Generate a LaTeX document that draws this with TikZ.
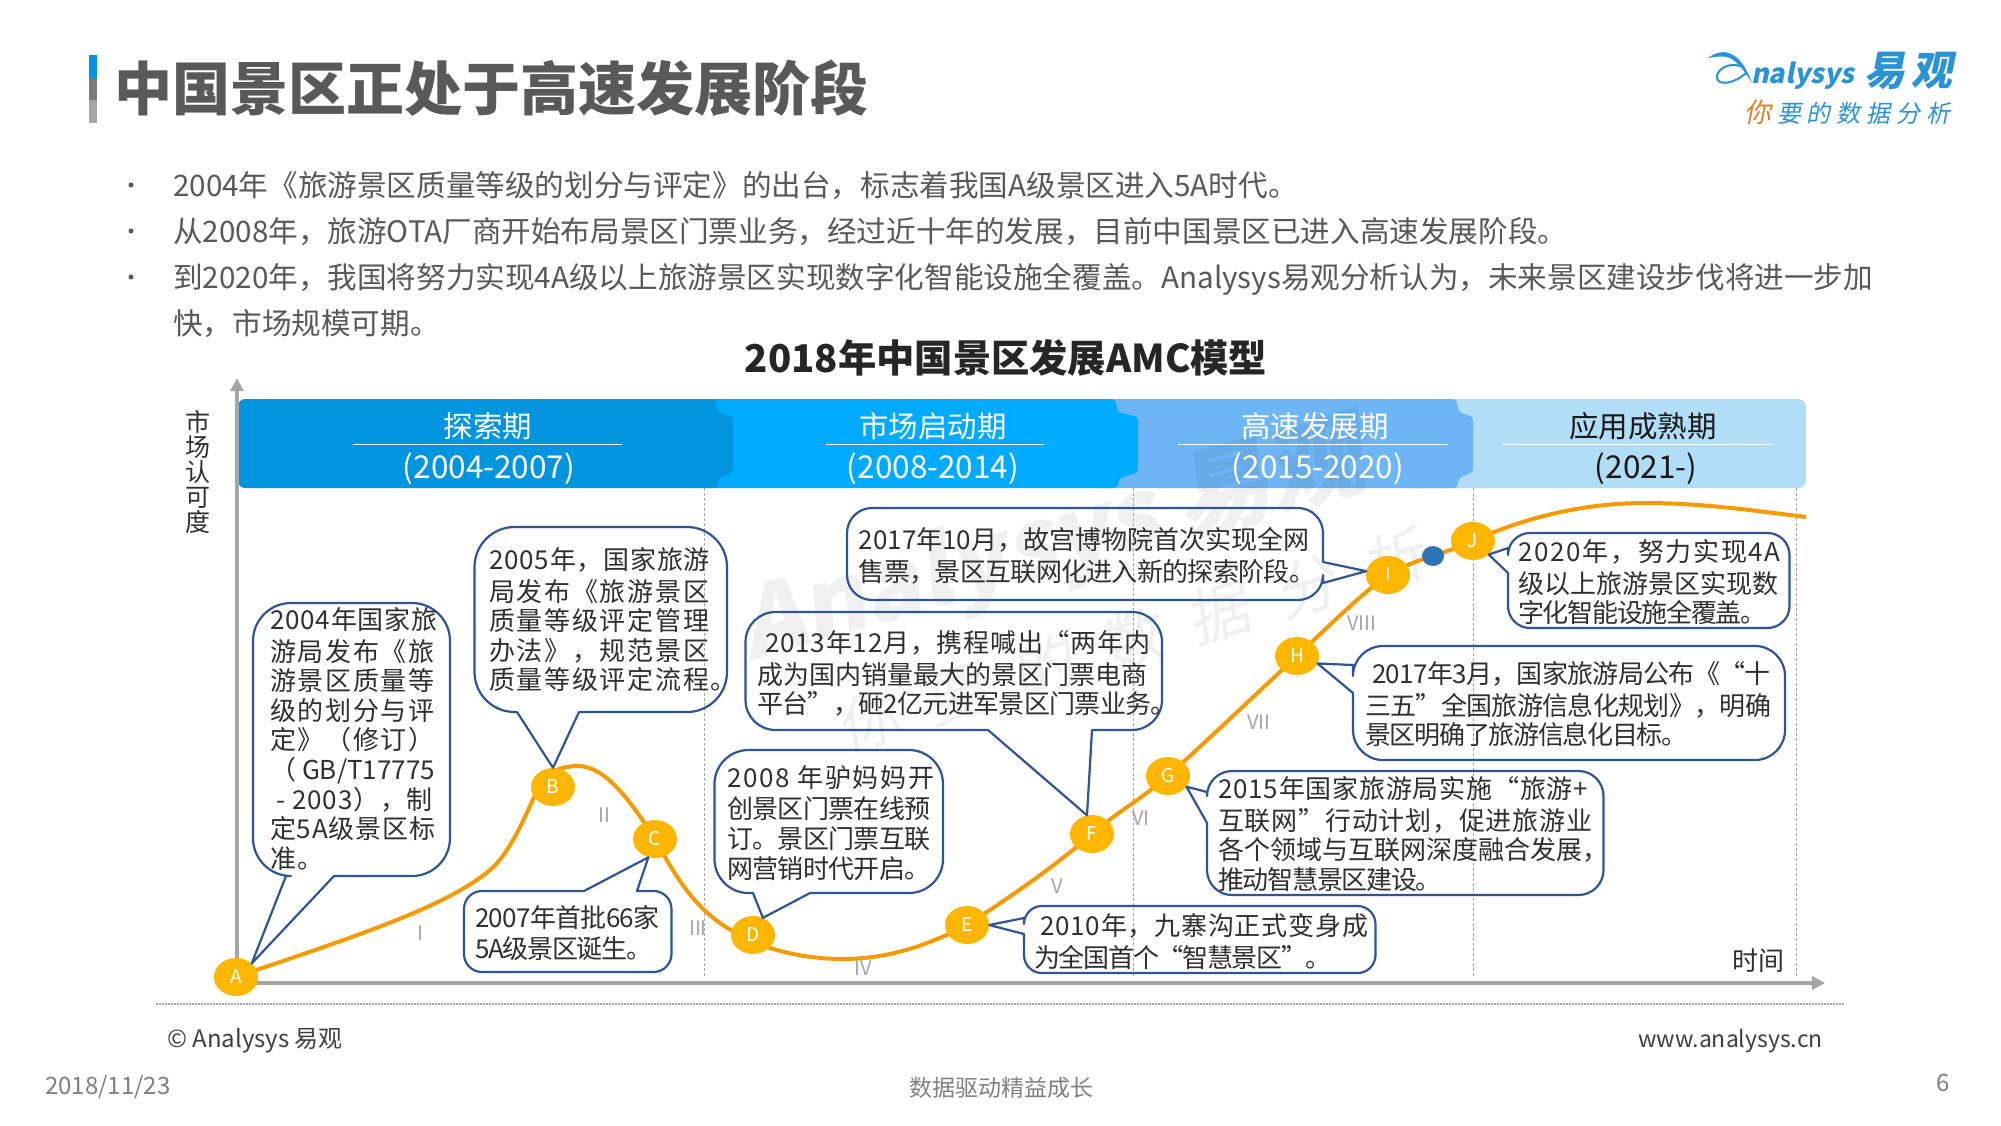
\documentclass[tikz,border=0pt]{standalone}
\usepackage{fontspec}
\usetikzlibrary{arrows.meta,shapes.geometric}
\setmainfont{Noto Sans CJK SC}
\newfontfamily\lsA{Noto Sans CJK SC}[LetterSpace=6.5]
\newfontfamily\lsB{Noto Sans CJK SC}[LetterSpace=3]
\newfontfamily\lsT{Noto Sans CJK SC}[LetterSpace=-2.6]
\newfontfamily\lsU{Noto Sans CJK SC}[LetterSpace=-5]
\newfontfamily\slantf{Noto Sans CJK SC}[FakeSlant=0.2]
\newfontfamily\slantsp{Noto Sans CJK SC}[FakeSlant=0.2,LetterSpace=24]
\newfontfamily\wmspaced{Noto Sans CJK SC}[FakeSlant=0.15,LetterSpace=48]
\newcommand\fsz[2]{\fontsize{#1}{#2}\selectfont}
\definecolor{txtgray}{HTML}{595959}
\definecolor{darktxt}{HTML}{303030}
\definecolor{navy}{HTML}{2F5597}
\definecolor{axisgray}{HTML}{A6A6A6}
\definecolor{orangeline}{HTML}{F59A00}
\definecolor{dotfill}{HTML}{FFB600}
\definecolor{bandone}{HTML}{0095DE}
\definecolor{bandtwo}{HTML}{00AAFF}
\definecolor{bandthree}{HTML}{6DB5F5}
\definecolor{bandfour}{HTML}{B1DDF7}
\definecolor{logoblue}{HTML}{2A93D5}
\definecolor{logoorange}{HTML}{E0812A}
\definecolor{stagedot}{HTML}{2E75B6}
\tikzset{
  callout/.style={draw=navy,line width=2.2pt,line join=round},
  calltext/.style={anchor=north west,inner sep=0pt,align=left,text=darktxt,font=\fsz{26}{29.6}},
  letterdot/.style={ellipse,fill=dotfill,minimum width=44pt,minimum height=38pt,inner sep=0pt,text=white,font=\fsz{19}{20}},
  roman/.style={text=axisgray,font=\fsz{20}{22},inner sep=0pt},
  bullettext/.style={anchor=base west,inner sep=0pt,text=txtgray,font=\fsz{29.6}{34}},
  bandname/.style={anchor=base,inner sep=0pt,text=white,font=\fsz{29.5}{34}},
  bandyear/.style={anchor=base,inner sep=0pt,text=white,font=\fsz{31.5}{34}},
  vdash/.style={draw=axisgray,line width=0.9pt,dash pattern=on 3pt off 2pt},
  axisline/.style={draw=axisgray,line width=3.6pt,-{Triangle[length=13pt,width=13pt]}},
  bandrule/.style={draw=white,line width=1pt},
  foot/.style={inner sep=0pt,anchor=base west,text=gray,font=\fsz{24}{26}},
  wmark/.style={text=black,text opacity=0.06,inner sep=0pt}
}
\begin{document}
\begin{tikzpicture}[x=1pt,y=-1pt]
\useasboundingbox (0,0) rectangle (2001,1125);
\fill[white] (0,0) rectangle (2001,1125);
% title bar
\fill[bandone] (89,55) rectangle (97,78);
\fill[gray!85!black!90] (89,78) rectangle (97,100);
\fill[axisgray] (89,100) rectangle (97,123);
\node[anchor=base west,inner sep=0pt,text=txtgray,font=\bfseries\fsz{58}{66}] (title) at (114,110) {中国景区正处于高速发展阶段};
% logo
\fill[logoblue] (1708,58) .. controls (1716,52) and (1725,50) .. (1733,55) .. controls (1742,60) and (1748,72) .. (1752,83) .. controls (1745,72) and (1738,62) .. (1730,58) .. controls (1722,55) and (1715,57) .. cycle;
\draw[logoblue,line width=2pt] (1740,66) .. controls (1728,62) and (1716,70) .. (1717,78) .. controls (1718,86) and (1735,84) .. (1747,72);
\node[anchor=base west,inner sep=0pt,text=logoblue,font=\slantf\bfseries\fsz{27}{32}] (lognaly) at (1751,83) {nalysys};
\node[anchor=base,inner sep=0pt,text=logoblue,font=\slantf\bfseries\fsz{41}{44}] (logyi) at (1885,85) {易};
\node[anchor=base,inner sep=0pt,text=logoblue,font=\slantf\bfseries\fsz{41}{44}] (logguan) at (1932,85) {观};
\node[anchor=base,inner sep=0pt,text=logoorange,font=\slantf\fsz{27}{30}] (logni) at (1758,122) {你};
\node[anchor=base west,inner sep=0pt,text=logoblue,font=\slantsp\fsz{24}{28}] (logrest) at (1777,122) {要的数据分析};
% bullets
\foreach \yy/\nm in {196/da,242/db,288/dc}{\node[circle,fill=txtgray,minimum size=5pt,inner sep=0pt] (\nm) at (131,\yy-11) {};}
\node[bullettext] (ba) at (173,196) {2004年《旅游景区质量等级的划分与评定》的出台，标志着我国A级景区进入5A时代。};
\node[bullettext] (bb) at (173,242) {从2008年，旅游OTA厂商开始布局景区门票业务，经过近十年的发展，目前中国景区已进入高速发展阶段。};
\node[bullettext] (bc) at (173,288) {到2020年，我国将努力实现4A级以上旅游景区实现数字化智能设施全覆盖。Analysys易观分析认为，未来景区建设步伐将进一步加};
\node[bullettext] (bd) at (173,334) {快，市场规模可期。};
\node[anchor=base,inner sep=0pt,text=black!85,font=\bfseries\fsz{38.3}{42}] (charttitle) at (1006,372) {2018年中国景区发展AMC模型};
% bands
\fill[bandfour,rounded corners=8pt] (1400,399) rectangle (1806,488);
\fill[bandthree] (1100,399) -- (1450,399) [rounded corners=3pt] -- (1456,399) -- (1459,412) -- (1473,417) -- (1473,472) -- (1459,478) -- (1457,488) [sharp corners] -- (1100,488) -- cycle;
\fill[bandtwo] (700,399) -- (1110,399) [rounded corners=3pt] -- (1115,399) -- (1118,412) -- (1138,417) -- (1138,472) -- (1120,478) -- (1117,488) [sharp corners] -- (700,488) -- cycle;
\fill[bandone] (245,399) -- (710,399) [rounded corners=3pt] -- (715,399) -- (718,412) -- (733,417) -- (733,472) -- (719,478) -- (717,488) [sharp corners] -- (245,488) [rounded corners=7pt] -- (238,488) -- (238,399) [sharp corners] -- cycle;
% watermark
\node[wmark,rotate=16,font=\slantf\bfseries\fsz{96}{110}] (wma) at (1052,545) {Analysys 易观};
\node[wmark,rotate=17,font=\wmspaced\fsz{62}{70}] (wmb) at (1131,640) {你要的数据分析};
% band text
\node[bandname] (na) at (488,437) {探索期};
\node[bandyear] (ya) at (489,478) {(2004-2007)};
\draw[bandrule] (353,444) -- (622,444);
\node[bandname] (nb) at (933,437) {市场启动期};
\node[bandyear] (yb) at (933,478) {(2008-2014)};
\draw[bandrule] (826,444) -- (1044,444);
\node[bandname] (nc) at (1315,437) {高速发展期};
\node[bandyear] (yc) at (1318,478) {(2015-2020)};
\draw[bandrule] (1178,444) -- (1448,444);
\node[bandname,text=black!90] (nd) at (1643,437) {应用成熟期};
\node[bandyear,text=black!90] (yd) at (1646,478) {(2021-)};
\draw[bandrule] (1502,444) -- (1772,444);
% axes
\coordinate (origin) at (237,983);
\coordinate (ytop) at (237,378);
\coordinate (xend) at (1825,983);
\draw[axisline] (origin) -- (ytop);
\draw[axisline] (origin) -- (xend);
\node[align=center,inner sep=0pt,text=darktxt,font=\fsz{25}{25}] (ylabel) at (198,472) {市\\场\\认\\可\\度};
\node[anchor=base,inner sep=0pt,text=darktxt,font=\fsz{26}{30}] (xlabel) at (1758,970) {时间};
% period rules
\foreach \xx in {704,1133,1473,1796.5}{\draw[vdash] (\xx,488) -- (\xx,977);}
% curve
\coordinate (cA) at (236,977);
\coordinate (cB) at (553,787);
\coordinate (cC) at (655,839);
\coordinate (cD) at (753,935);
\coordinate (cE) at (967,925);
\coordinate (cF) at (1092,834);
\coordinate (cG) at (1168,776);
\coordinate (cH) at (1297,656);
\coordinate (cI) at (1388,575);
\coordinate (cJ) at (1473,541);
\coordinate (cdot) at (1433,556);
\coordinate (curveend) at (1806,517);
\draw[orangeline,line width=4pt] (cA) .. controls (350,938) and (445,908) .. (490,870) .. controls (512,851) and (525,815) .. (540,785) .. controls (547,771) and (563,766) .. (578,766) .. controls (605,766) and (630,800) .. (cC) .. controls (680,885) and (700,915) .. (740,935) .. controls (770,952) and (810,959) .. (843,959) .. controls (885,959) and (925,947) .. (cE) .. controls (1010,897) and (1050,870) .. (cF) .. controls (1120,810) and (1140,800) .. (cG) .. controls (1210,738) and (1255,695) .. (cH) .. controls (1330,625) and (1360,595) .. (cI) .. controls (1405,565) and (1420,560) .. (cdot) .. controls (1447,551) and (1460,547) .. (cJ) .. controls (1530,515) and (1590,503) .. (1644,503) .. controls (1700,503) and (1750,510) .. (curveend);
\node[letterdot] (A) at (cA) {A};
\node[letterdot] (B) at (cB) {B};
\node[letterdot] (C) at (cC) {C};
\node[letterdot] (D) at (cD) {D};
\node[letterdot] (E) at (cE) {E};
\node[letterdot] (F) at (cF) {F};
\node[letterdot] (G) at (cG) {G};
\node[letterdot] (H) at (cH) {H};
\node[letterdot] (I) at (cI) {I};
\node[letterdot] (J) at (cJ) {J};
\node[ellipse,fill=stagedot,minimum width=22pt,minimum height=20pt,inner sep=0pt] (bluedot) at (cdot) {};
% roman numerals
\node[roman] (ra) at (420,933) {I};
\node[roman] (rb) at (604,815) {II};
\node[roman] (rc) at (698,928) {III};
\node[roman] (rd) at (863,968) {IV};
\node[roman] (re) at (1057,886) {V};
\node[roman] (rf) at (1141,818) {VI};
\node[roman] (rg) at (1259,722) {VII};
\node[roman] (rh) at (1362,623) {VIII};
% callouts
\draw[callout] (286,876) [rounded corners=38pt] -- (253,876) -- (253,603) -- (450,603) -- (450,876) [sharp corners] -- (334,876) -- (A.north east) -- cycle;
\node[calltext] (ta) at (270,607) {\strut{\lsB 2004年国家旅}\\{\lsA 游局发布《旅}\\{\lsA 游景区质量等}\\{\lsA 级的划分与评}\\{\lsA 定》（修订）}\\（ GB/T17775\\{\lsB\ - 2003），制}\\{\lsB 定5A级景区标}\\{\lsA 准。}};
\draw[callout] (517,712) [rounded corners=40pt] -- (474.5,712) -- (474.5,527) -- (727,527) -- (727,712) [sharp corners] -- (579,712) -- (B.north) -- cycle;
\node[calltext] (tb) at (489,547) {\strut{\lsB 2005年，国家旅游}\\{\lsA 局发布《旅游景区}\\{\lsA 质量等级评定管理}\\{\lsA 办法》，规范景区}\\{\lsA 质量等级评定流程。}};
\draw[callout] (584,891) [rounded corners=18pt] -- (464,891) -- (464,972) -- (671.5,972) -- (671.5,891) [sharp corners] -- (637,891) -- (C.250) -- cycle;
\node[calltext] (tc) at (475,905) {\strut{\lsT 2007年首批66家}\\{\lsU 5A级景区诞生。}};
\draw[callout] (753,893) [rounded corners=34pt] -- (714.5,893) -- (714.5,750) -- (943,750) -- (943,893) [sharp corners] -- (810,893) -- (D.60) -- cycle;
\node[calltext] (td) at (727,765) {\strut{\lsA 2008 年驴妈妈开}\\{\lsT 创景区门票在线预}\\{\lsT 订。景区门票互联}\\{\lsT 网营销时代开启。}};
\draw[callout] (988,730) [rounded corners=30pt] -- (745.5,730) -- (745.5,612) -- (1162,612) -- (1162,730) [sharp corners] -- (1092,730) -- (F.105) -- cycle;
\node[calltext] (tf) at (757,630) {\strut\hspace{8pt}{\lsB 2013年12月，携程喊出“两年内}\\成为国内销量最大的景区门票电商\\{\lsT 平台”，砸2亿元进军景区门票业务。}};
\draw[callout] (1323,562) [rounded corners=25pt] -- (1323,508) -- (847,508) -- (847,600) -- (1323,600) [sharp corners] -- (1323,583) -- (I.170) -- cycle;
\node[calltext] (ti) at (858.5,527) {\strut 2017年10月，故宫博物院首次实现全网\\{\lsT 售票，景区互联网化进入新的探索阶段。}};
\draw[callout] (1353,665) [rounded corners=30pt] -- (1353,646) -- (1785,646) -- (1785,760) -- (1353,760) [sharp corners] -- (1353,693) -- (H.340) -- cycle;
\node[calltext] (th) at (1365,661) {\strut\hspace{7pt}{\lsT 2017年3月，国家旅游局公布《“十}\\{\lsT 三五”全国旅游信息化规划》，明确}\\{\lsU 景区明确了旅游信息化目标。}};
\draw[callout] (1508,548) [rounded corners=22pt] -- (1508,533) -- (1789.5,533) -- (1789.5,628) -- (1508,628) [sharp corners] -- (1508,573) -- (J.south east) -- cycle;
\node[calltext] (tj) at (1518,539) {\strut{\lsA 2020年，努力实现4A}\\级以上旅游景区实现数\\{\lsU 字化智能设施全覆盖。}};
\draw[callout] (1207,792) [rounded corners=25pt] -- (1207,771) -- (1603.5,771) -- (1603.5,895) -- (1207,895) [sharp corners] -- (1207,823) -- (G.330) -- cycle;
\node[calltext] (tg) at (1218,776) {\strut{\lsB 2015年国家旅游局实施“旅游+}\\{\lsB 互联网”行动计划，促进旅游业}\\各个领域与互联网深度融合发展，\\{\lsU 推动智慧景区建设。}};
\draw[callout] (1024,918) [rounded corners=18pt] -- (1024,906) -- (1375.5,906) -- (1375.5,973) -- (1024,973) [sharp corners] -- (1024,934) -- (E.east) -- cycle;
\node[calltext] (te) at (1034,913) {\strut\hspace{6pt}{\lsB 2010年，九寨沟正式变身成}\\{\lsU 为全国首个“智慧景区”。}};
% footer
\draw[axisgray,line width=1.6pt,dash pattern=on 1.6pt off 1.4pt] (156,1004) -- (1845,1004);
\node[foot,text=black!75] (fa) at (167,1047) {© Analysys 易观};
\node[foot,anchor=base east,text=black!75,font=\fsz{23}{26}] (fb) at (1823,1047) {www.analysys.cn};
\node[foot] (fc) at (45,1094) {2018/11/23};
\node[foot,anchor=base,font=\fsz{23}{26}] (fd) at (1001,1096) {数据驱动精益成长};
\node[foot,anchor=base] (fe) at (1943,1091) {6};
\end{tikzpicture}
\end{document}
